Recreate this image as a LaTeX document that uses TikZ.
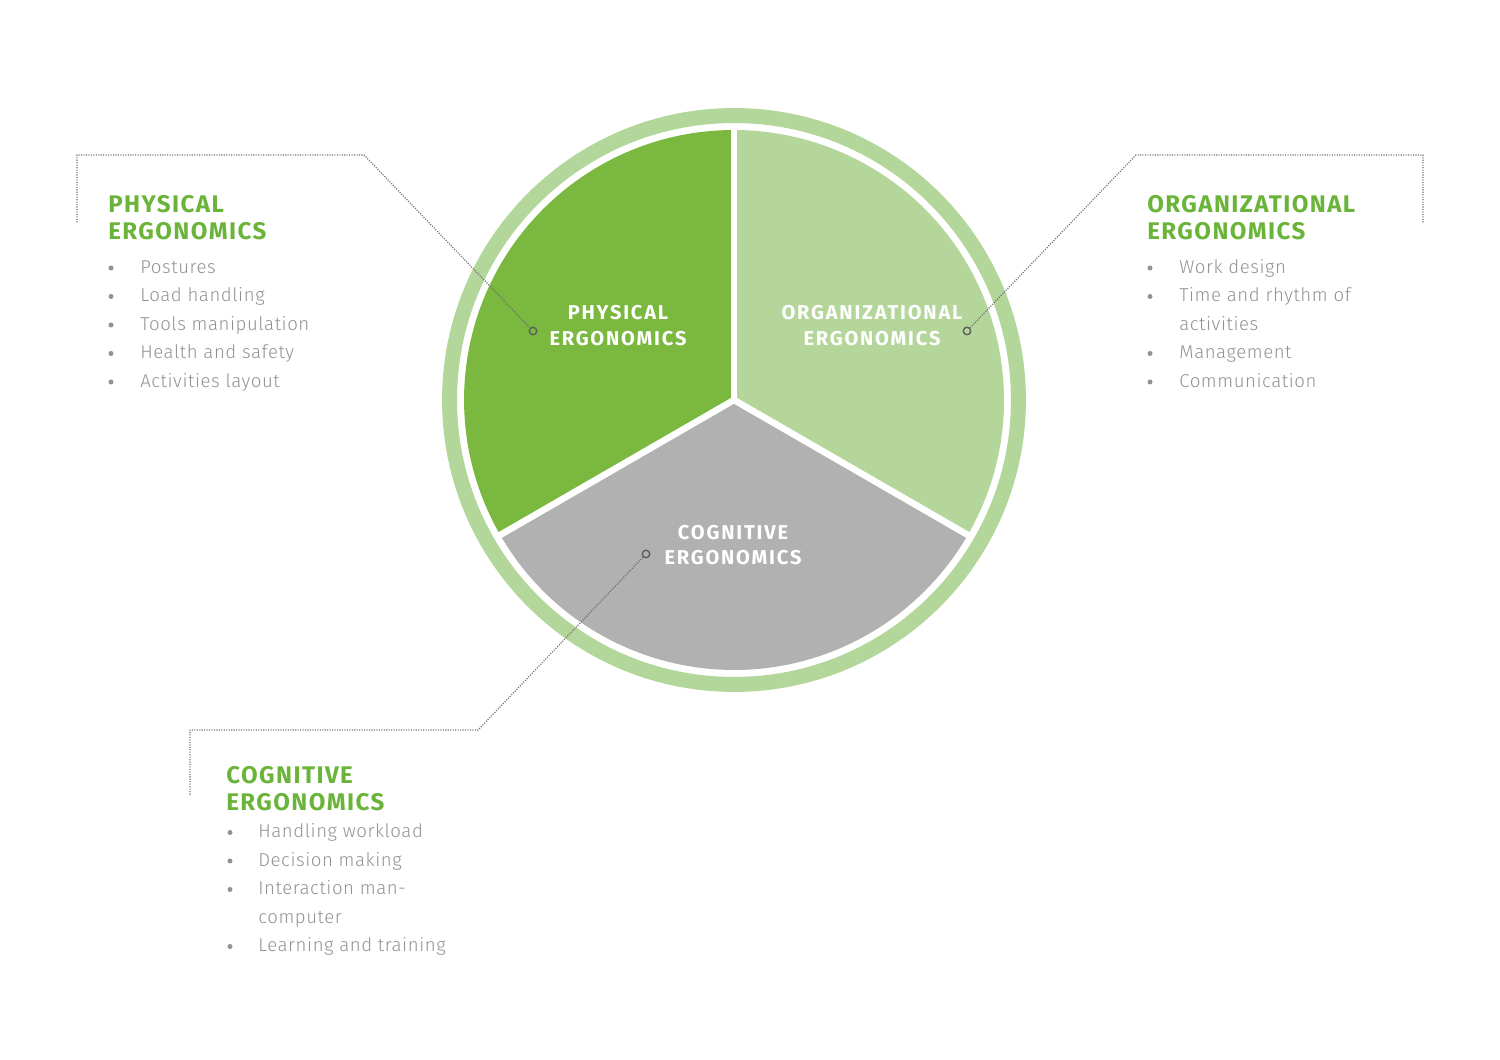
\documentclass[tikz,border=0pt]{standalone}
\usepackage{fontspec}
\setmainfont{Fira Sans}
\newfontfamily\lightfont[LetterSpace=3]{Fira Sans Light}
\newfontfamily\headfont[LetterSpace=6]{Fira Sans Bold}
\newfontfamily\labelfont[LetterSpace=9]{Fira Sans Bold}
\usetikzlibrary{positioning}
\definecolor{physFill}{HTML}{7AB83F}
\definecolor{orgFill}{HTML}{B5D69B}
\definecolor{cogFill}{HTML}{B1B1B1}
\definecolor{ringFill}{HTML}{B3D69A}
\definecolor{headGreen}{HTML}{6AB43A}
\definecolor{itemGray}{HTML}{929292}
\definecolor{leadGray}{HTML}{6E6E6E}
\definecolor{pinGray}{HTML}{5E5E5E}
\tikzset{
    Leader/.style = {leadGray, line width=0.7pt, dash pattern=on 0.6pt off 0.8pt},
    Pin/.style = {circle, draw=pinGray, line width=0.8pt, minimum size=0.15cm, inner sep=0pt},
    Sep/.style = {white, line width=0.13cm},
    Heading/.style = {anchor=north west, inner sep=0pt, align=left, text=headGreen,
        font=\headfont\fontsize{13.7}{15.6}\selectfont},
    Item/.style = {anchor=base west, inner sep=0pt, text=itemGray,
        font=\lightfont\fontsize{10.6}{16}\selectfont},
    Bullet/.style = {circle, fill=itemGray, inner sep=0pt, minimum size=0.1cm},
    Label/.style = {align=center, inner sep=0pt, text=white,
        font=\labelfont\fontsize{11.4}{14.7}\selectfont}
}

\begin{document}
\begin{tikzpicture}[x=0.02cm, y=0.02cm]
    \useasboundingbox (0,0) rectangle (1500,1060);
    \coordinate (C) at (734,660);

    % pie and ring
    \draw[ringFill, line width=0.3cm] (C) circle[radius=5.69cm];
    \fill[physFill] (C) -- ++(90:5.4cm) arc[start angle=90, end angle=210, radius=5.4cm] -- cycle;
    \fill[cogFill] (C) -- ++(210:5.4cm) arc[start angle=210, end angle=330, radius=5.4cm] -- cycle;
    \fill[orgFill] (C) -- ++(330:5.4cm) arc[start angle=-30, end angle=90, radius=5.4cm] -- cycle;
    \foreach \a in {90,210,330}
        \draw[Sep] (C) -- ++(\a:5.5cm);

    \node[Label] (PhysLabel) at (618,734.5) {PHYSICAL\\ERGONOMICS};
    \node[Label] (OrgLabel) at (872,734.5) {ORGANIZATIONAL\\ERGONOMICS};
    \node[Label] (CogLabel) at (733,515) {COGNITIVE\\ERGONOMICS};

    \node[Pin] (PhysPin) at (533,729) {};
    \node[Pin] (OrgPin) at (967,729) {};
    \node[Pin] (CogPin) at (646,506) {};

    % leaders
    \coordinate (PhysBend) at (364,905);
    \coordinate (PhysCorner) at (77,905);
    \coordinate (PhysEnd) at (77,837);
    \coordinate (OrgBend) at (1136,905);
    \coordinate (OrgCorner) at (1423,905);
    \coordinate (OrgEnd) at (1423,837);
    \coordinate (CogBend) at (478,330);
    \coordinate (CogCorner) at (190,330);
    \coordinate (CogEnd) at (190,264);
    \draw[Leader] (PhysPin) -- (PhysBend) -- (PhysCorner) -- (PhysEnd);
    \draw[Leader] (OrgPin) -- (OrgBend) -- (OrgCorner) -- (OrgEnd);
    \draw[Leader] (CogPin) -- (CogBend) -- (CogCorner) -- (CogEnd);

    % headings
    \node[Heading] (PhysHead) at (108,865) {PHYSICAL\\ERGONOMICS};
    \node[Heading] (OrgHead) at (1147,865) {ORGANIZATIONAL\\ERGONOMICS};
    \node[Heading] (CogHead) at (226,294) {COGNITIVE\\ERGONOMICS};

    % lists
    \foreach \txt/\b [count=\i] in {Postures/1, Load handling/1, Tools manipulation/1,
            Health and safety/1, Activities layout/1} {
        \node[Item] (Phys\i) at (140,{786.5-28.5*(\i-1)}) {\txt};
        \ifnum\b=1 \node[Bullet] (PhysDot\i) at (111,{792-28.5*(\i-1)}) {}; \fi
    }
    \foreach \txt/\b [count=\i] in {Work design/1, Time and rhythm of/1, activities/0,
            Management/1, Communication/1} {
        \node[Item] (Org\i) at (1179,{786.5-28.5*(\i-1)}) {\txt};
        \ifnum\b=1 \node[Bullet] (OrgDot\i) at (1150,{792-28.5*(\i-1)}) {}; \fi
    }
    \foreach \txt/\b [count=\i] in {Handling workload/1, Decision making/1, Interaction man-/1,
            computer/0, Learning and training/1} {
        \node[Item] (Cog\i) at (258,{222-28.5*(\i-1)}) {\txt};
        \ifnum\b=1 \node[Bullet] (CogDot\i) at (230,{227.5-28.5*(\i-1)}) {}; \fi
    }
\end{tikzpicture}
\end{document}
